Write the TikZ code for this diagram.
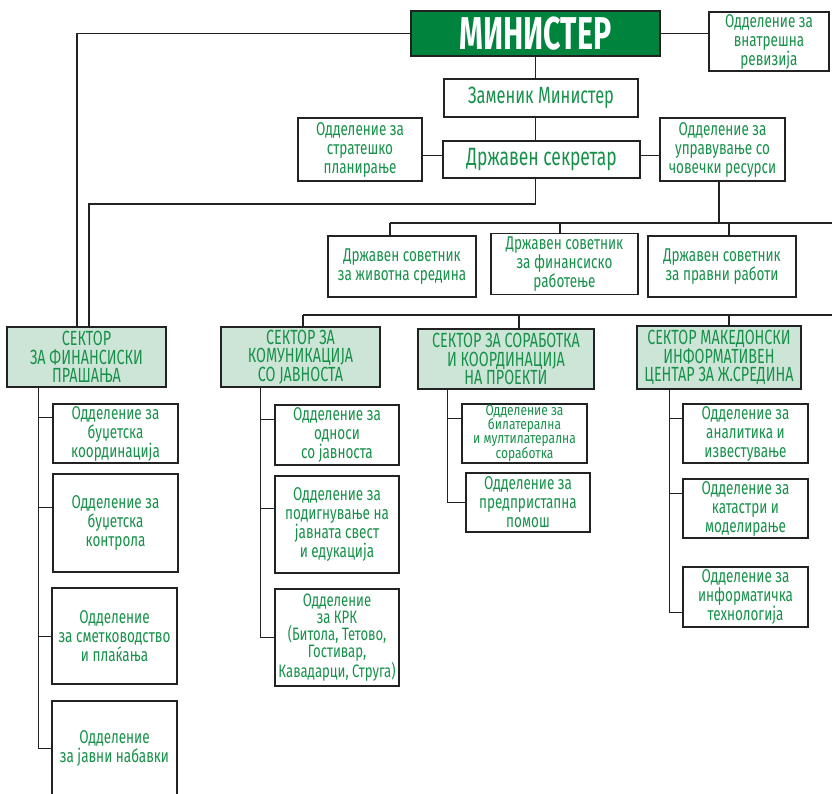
\documentclass[tikz,border=0pt]{standalone}
\usepackage{fontspec}
\setmainfont{Fira Sans}
\newfontfamily\cf[FakeStretch=0.8]{Fira Sans}
\newfontfamily\cfa[FakeStretch=0.73]{Fira Sans}
\newfontfamily\cfs[FakeStretch=0.7]{Fira Sans}
\newfontfamily\cfbold[FakeStretch=0.66]{Fira Sans}
\definecolor{tg}{HTML}{17914A}
\definecolor{dg}{HTML}{00843D}
\definecolor{sf}{HTML}{CDE5D7}
\definecolor{lc}{HTML}{222222}
\begin{document}
\begin{tikzpicture}[x=1pt,y=-1pt,
  sz/.style 2 args={minimum width=#1pt, minimum height=#2pt},
  box/.style={draw=lc, line width=1.4pt, fill=white, inner sep=0pt, align=center, text=tg,
    font=\cfa\fontsize{18.5}{19}\selectfont},
  sector/.style={box, fill=sf, font=\cfs\fontsize{20.5}{18.5}\selectfont},
  conn/.style={draw=lc, line width=1.2pt}]
\clip (0,0) rectangle (832,794);
\fill[white] (0,0) rectangle (832,794);

% top level
\node[box, sz={249}{45}, fill=dg, text=white, font=\cfbold\bfseries\fontsize{46}{46}\selectfont] (min) at (535.5,33.5) {МИНИСТЕР};
\node[box, sz={120}{59}] (rev) at (769,41.5) {Одделение за\\внатрешна\\ревизија};
\node[box, sz={194}{38}, font=\cfs\fontsize{23.5}{24}\selectfont] (zam) at (541,98) {Заменик Министер};
\node[box, sz={124}{63}] (strat) at (360,149.5) {Одделение за\\стратешко\\планирање};
\node[box, sz={197}{37}, font=\cfs\fontsize{25}{26}\selectfont] (sek) at (541.5,159.5) {Државен секретар};
\node[box, sz={125}{63}] (chov) at (722.5,149.5) {Одделение за\\управување со\\човечки ресурси};

% advisers
\node[box, sz={148}{61}] (sov1) at (402,266.5) {Државен советник\\за животна средина};
\node[box, sz={147}{61}, font=\cfa\fontsize{18.5}{16.5}\selectfont] (sov2) at (564.5,264) {Државен советник\\за финансиско\\работење};
\node[box, sz={148}{61}] (sov3) at (722,266.5) {Државен советник\\за правни работи};

% sectors
\node[sector, sz={159}{60}] (secF) at (86.5,357) {СЕКТОР\\ЗА ФИНАНСИСКИ\\ПРАШАЊА};
\node[sector, sz={159}{60}] (secK) at (300.5,357) {СЕКТОР ЗА\\КОМУНИКАЦИЈА\\СО ЈАВНОСТА};
\node[sector, sz={176}{60}] (secS) at (506,359) {СЕКТОР ЗА СОРАБОТКА\\И КООРДИНАЦИЈА\\НА ПРОЕКТИ};
\node[sector, sz={164}{63}] (secM) at (719,357.5) {СЕКТОР МАКЕДОНСКИ\\ИНФОРМАТИВЕН\\ЦЕНТАР ЗА Ж.СРЕДИНА};

% finance departments
\node[box, sz={125}{59}] (f1) at (115.5,433.5) {Одделение за\\буџетска\\координација};
\node[box, sz={125}{98}] (f2) at (115.5,523) {Одделение за\\буџетска\\контрола};
\node[box, sz={125}{96}] (f3) at (114.5,636) {Одделение\\за сметководство\\и плаќања};
\node[box, sz={125}{95}] (f4) at (114.5,748.5) {Одделение\\за јавни набавки};

% communication departments
\node[box, sz={124}{60}] (k1) at (337,435) {Одделение за\\односи\\со јавноста};
\node[box, sz={124}{97}] (k2) at (337,524.5) {Одделение за\\подигнување на\\јавната свест\\и едукација};
\node[box, sz={124}{97}, font=\cfa\fontsize{18}{16.8}\selectfont] (k3) at (337,637.5) {Одделение\\за КРК\\(Битола, Тетово,\\Гостивар,\\Кавадарци, Струга)};

% cooperation departments
\node[box, sz={125}{59}, font=\cf\fontsize{15}{13.5}\selectfont] (s1) at (524.5,433.5) {Одделение за\\билатерална\\и мултилатерална\\соработка};
\node[box, sz={124}{59}] (s2) at (528,502.5) {Одделение за\\предпристапна\\помош};

% info centre departments
\node[box, sz={125}{59}] (m1) at (745.5,433.5) {Одделение за\\аналитика и\\известување};
\node[box, sz={125}{59}] (m2) at (745.5,508.5) {Одделение за\\катастри и\\моделирање};
\node[box, sz={125}{60}] (m3) at (745.5,597) {Одделение за\\информатичка\\технологија};

% helper coordinates
\coordinate (cL1) at (77,0);
\coordinate (bendA) at (89,204);
\coordinate (busA) at (390,223);
\coordinate (busAend) at (832,223);
\coordinate (busB) at (303,315);
\coordinate (busBend) at (832,315);
\coordinate (fs) at ([xshift=32pt]secF.south west);
\coordinate (ks) at ([xshift=40pt]secK.south west);
\coordinate (ss) at ([xshift=30pt]secS.south west);
\coordinate (ms) at ([xshift=33pt]secM.south west);

% connectors top
\draw[conn] (min.west) -| (cL1 |- secF.north);
\draw[conn] (min.east) -- (min.east -| rev.west);
\draw[conn] (min.south) -- (min.south |- zam.north);
\draw[conn] (min.south |- zam.south) -- (min.south |- sek.north);
\draw[conn] ([yshift=-6pt]strat.east) -- ([yshift=-6pt]strat.east -| sek.west);
\draw[conn] ([yshift=-6pt]chov.west) -- ([yshift=-6pt]chov.west -| sek.east);
\draw[conn] (min.south |- sek.south) |- (bendA) -- (bendA |- secF.north);

% advisers bus
\draw[conn] (busA) -- (busAend);
\draw[conn] ([xshift=-3.5pt]chov.south) -- ([xshift=-3.5pt]chov.south |- busA);
\draw[conn] (busA) -- (busA |- sov1.north);
\draw[conn] ([xshift=-4.5pt]sov2.north |- busA) -- ([xshift=-4.5pt]sov2.north);
\draw[conn] ([xshift=7pt]sov3.north |- busA) -- ([xshift=7pt]sov3.north);

% sectors bus
\draw[conn] (busB) -- (busBend);
\draw[conn] (busB) -- (busB |- secK.north);
\draw[conn] ([xshift=13pt]secS.north |- busB) -- ([xshift=13pt]secS.north);
\draw[conn] ([xshift=10pt]secM.north |- busB) -- ([xshift=10pt]secM.north);

% finance spine
\draw[conn] (fs) |- ([yshift=-14pt]f1.north west);
\draw[conn] (fs) |- ([yshift=-34pt]f2.north west);
\draw[conn] (fs) |- ([yshift=-49pt]f3.north west);
\draw[conn] (fs) |- ([yshift=-48pt]f4.north west);

% communication spine
\draw[conn] (ks) |- ([yshift=-15pt]k1.north west);
\draw[conn] (ks) |- ([yshift=-33pt]k2.north west);
\draw[conn] (ks) |- ([yshift=-49pt]k3.north west);

% cooperation spine
\draw[conn] (ss) |- ([yshift=-15pt]s1.north west);
\draw[conn] (ss) |- ([yshift=-30pt]s2.north west);

% info centre spine
\draw[conn] (ms) |- ([yshift=-15pt]m1.north west);
\draw[conn] (ms) |- ([yshift=-15pt]m2.north west);
\draw[conn] (ms) |- ([yshift=-46pt]m3.north west);
\end{tikzpicture}
\end{document}
